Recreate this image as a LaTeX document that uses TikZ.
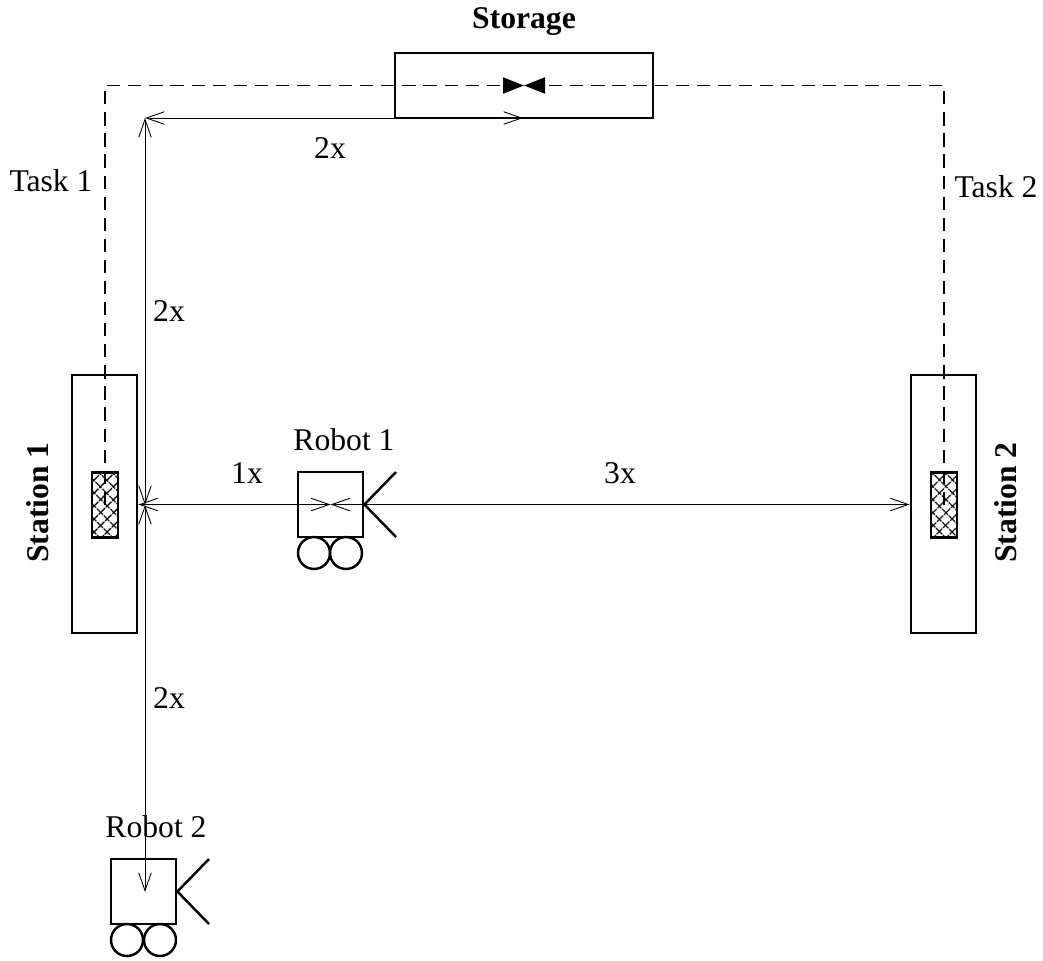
\documentclass[tikz,border=0pt]{standalone}
\usepackage{fontspec}
\setmainfont{Liberation Serif}
\usetikzlibrary{arrows.meta,patterns.meta}

\begin{document}
\begin{tikzpicture}[
  x=0.02cm, y=-0.02cm,
  font=\fontsize{18}{20}\selectfont,
  station/.style={draw=black, line width=1.6pt, minimum width=1.3cm, minimum height=5.16cm, inner sep=0pt},
  store/.style={draw=black, line width=1.6pt, minimum width=5.16cm, minimum height=1.3cm, inner sep=0pt},
  part/.style={draw=black, line width=1.2pt, minimum width=0.52cm, minimum height=1.3cm, inner sep=0pt,
               pattern={Lines[angle=45,distance=5.4pt,line width=0.85pt]}, postaction={pattern={Lines[angle=-45,distance=5.4pt,line width=0.85pt]}}},
  robot/.style={draw=black, line width=1.6pt, minimum width=1.3cm, minimum height=1.3cm, inner sep=0pt},
  wheel/.style={circle, draw=black, line width=1.4pt, minimum size=0.64cm, inner sep=0pt},
  task/.style={draw=black, line width=1pt, dash pattern=on 7.5pt off 4.5pt},
  taskarr/.style={task, -{Triangle[length=0.42cm, width=0.32cm, sep=0pt]}},
  arr/.style={{Straight Barb[length=0.36cm, width=0.25cm]}-{Straight Barb[length=0.36cm, width=0.25cm]}, draw=black, line width=0.5pt},
  lab/.style={inner sep=0pt},
  title/.style={font=\fontsize{18}{20}\selectfont\bfseries, inner sep=0pt}
]
\useasboundingbox (0,0) rectangle (1043,960);

% stations and storage
\node[station] (st1) at (104.5,504) {};
\node[station] (st2) at (943.5,504) {};
\node[store] (sto) at (524,85.5) {};
\node[part] (pa) at (105,505) {};
\node[part] (pb) at (944,505) {};
\node[title] (sto-t) at (524,22) {Storage};
\node[title, rotate=90, anchor=base west] (st1-t) at (48,563) {Station 1};
\node[title, rotate=90, anchor=base west] (st2-t) at (1016,563) {Station 2};

% robot 1
\node[robot] (r1) at (330.5,504.5) {};
\node[wheel] (r1a) at (314,553) {};
\node[wheel] (r1b) at (346,553) {};
\coordinate (r1u) at (396,472);
\coordinate (r1d) at (396,537);
\draw[line width=1.4pt] (r1u) -- (r1.east) -- (r1d);

% robot 2
\node[robot] (r2) at (143.5,891.5) {};
\node[wheel] (r2a) at (127,940) {};
\node[wheel] (r2b) at (160,940) {};
\coordinate (r2u) at (209,859);
\coordinate (r2d) at (209,924);
\draw[line width=1.4pt] (r2u) -- (r2.east) -- (r2d);

% tasks
\draw[taskarr] (pa.center) |- (sto.center);
\draw[taskarr] (pb.center) |- (sto.center);

% distances
\coordinate (c0) at (145,118);
\coordinate (c1) at (145,505);
\coordinate (c2) at (523,118);
\coordinate (c3) at (145,892);
\draw[arr] (c0) -- (c2);
\draw[arr] (c0) -- (c1);
\draw[arr] (c1) -- (c3);
\draw[arr] (st1.east |- r1.center) -- (r1.center);
\draw[arr] (r1.center) -- (st2.west |- r1.center);

% labels
\node[lab] (l1) at (330,148) {2x};
\node[lab] (l2) at (169,311) {2x};
\node[lab] (l3) at (247,473) {1x};
\node[lab] (l4) at (620,473) {3x};
\node[lab] (l5) at (169,698) {2x};
\node[lab] (t1) at (51,181) {Task 1};
\node[lab] (t2) at (996,187) {Task 2};
\node[lab] (n1) at (344,440) {Robot 1};
\node[lab] (n2) at (156,827) {Robot 2};
\end{tikzpicture}
\end{document}
